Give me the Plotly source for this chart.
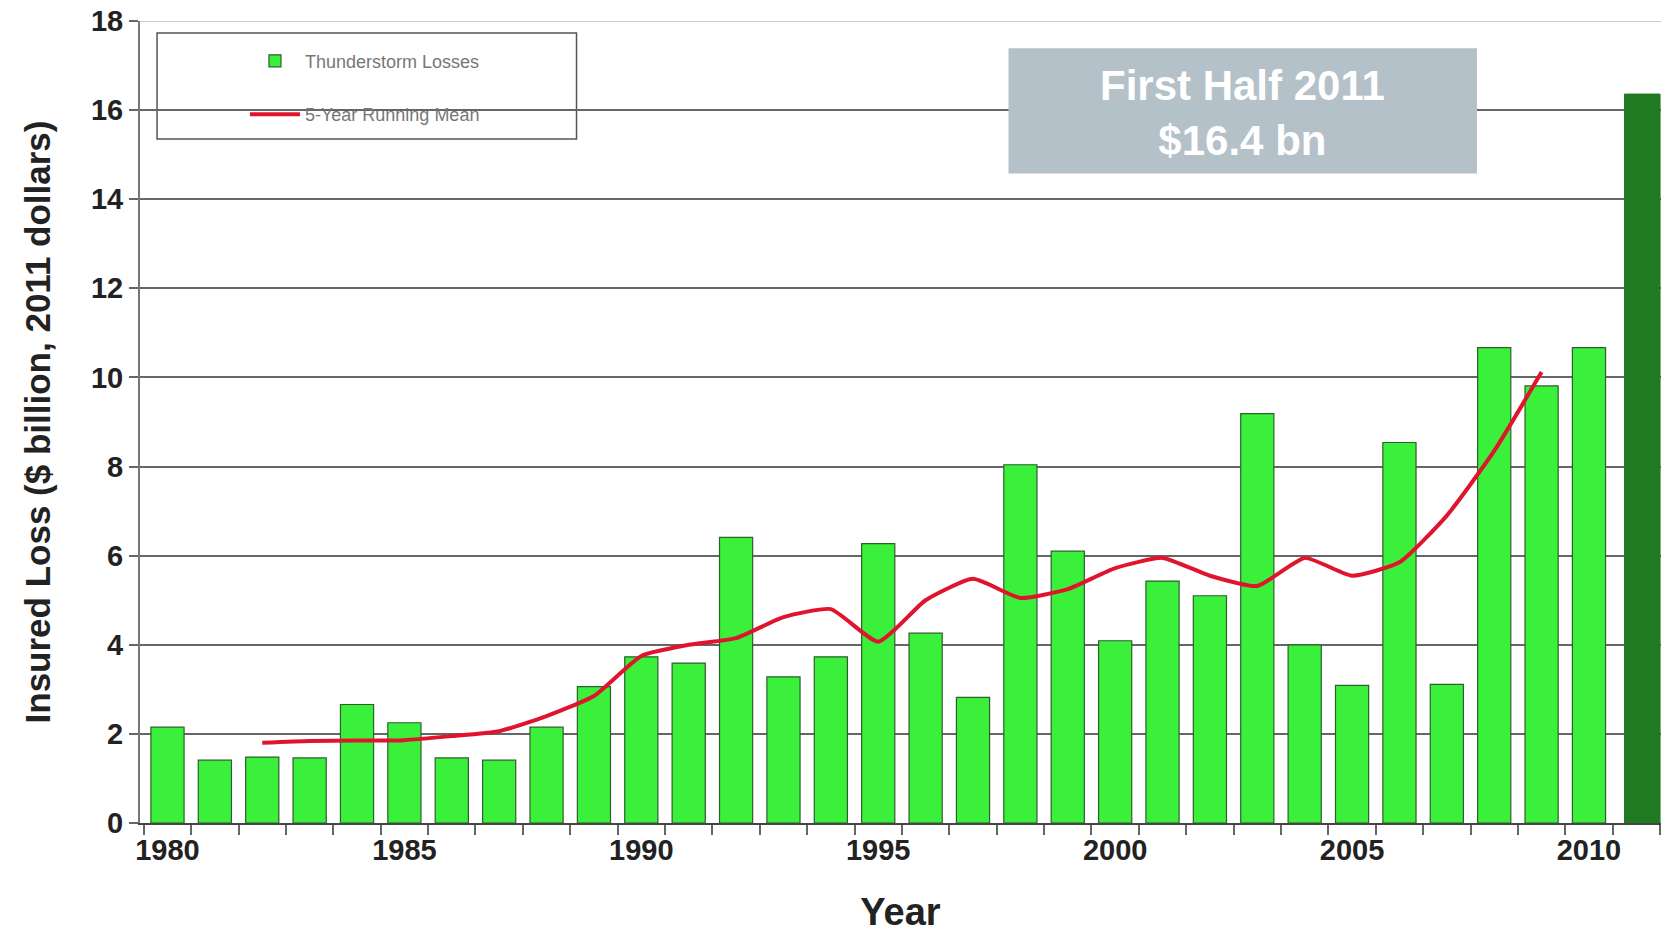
import plotly.graph_objects as go

years = list(range(1980, 2011))
losses = [2.15, 1.41, 1.48, 1.46, 2.66, 2.25, 1.46, 1.41, 2.15, 3.06,
          3.73, 3.59, 6.41, 3.28, 3.73, 6.27, 4.26, 2.82, 8.04, 6.10,
          4.09, 5.43, 5.10, 9.19, 4.00, 3.09, 8.54, 3.11, 10.67, 9.81,
          10.67]
half_year = [2011]
half_loss = [16.36]
mean_years = list(range(1982, 2010))
mean_vals = [1.80, 1.84, 1.85, 1.86, 1.95, 2.06, 2.40, 2.85, 3.75, 4.00,
             4.15, 4.62, 4.80, 4.07, 5.00, 5.48, 5.05, 5.25, 5.72, 5.95,
             5.55, 5.32, 5.95, 5.55, 5.85, 6.90, 8.35, 10.12]
x_ticks = [1980, 1985, 1990, 1995, 2000, 2005, 2010]
y_ticks = [0, 2, 4, 6, 8, 10, 12, 14, 16, 18]

FONT = "Liberation Sans, Arial, sans-serif"

fig = go.Figure()
fig.add_trace(go.Bar(
    x=years, y=losses, name="Thunderstorm Losses", width=0.7,
    marker=dict(color="#3af03a", line=dict(color="#2d5f2d", width=1.2)),
    legendgroup="a"))
fig.add_trace(go.Bar(
    x=half_year, y=half_loss, name="First Half 2011", width=0.75, offset=-0.25,
    marker=dict(color="#1f7a22", line=dict(color="#1f7a22", width=1)),
    showlegend=False))
fig.add_trace(go.Scatter(
    x=mean_years, y=mean_vals, name="5-Year Running Mean", mode="lines",
    line=dict(color="#e0142c", width=4, shape="spline", smoothing=0.5),
    legendgroup="b"))

fig.update_layout(
    width=1672, height=937,
    margin=dict(l=140, r=11, t=21, b=114, autoexpand=False),
    paper_bgcolor="white", plot_bgcolor="white",
    bargap=0.3, barmode="overlay",
    font=dict(family=FONT, color="#222"),
    showlegend=True,
    legend=dict(x=0.069, y=0.973, xanchor="left", yanchor="top",
                bgcolor="rgba(0,0,0,0)", borderwidth=0,
                font=dict(family=FONT, size=18, color="#777"),
                tracegroupgap=27, traceorder="grouped", itemwidth=50),
    xaxis=dict(range=[1979.42, 2011.52], tickvals=x_ticks,
               ticktext=[str(v) for v in x_ticks], ticks="",
               automargin=False, ticklabeloverflow="allow",
               tickfont=dict(family=FONT, size=29, color="#222", weight="bold"),
               showgrid=False, zeroline=False,
               showline=True, linecolor="#444", linewidth=2,
               minor=dict(ticks="outside", tick0=1979.5, dtick=1,
                          ticklen=10, tickcolor="#666", tickwidth=1.5,
                          showgrid=False),
               title=dict(text="<b>Year</b>", standoff=34,
                          font=dict(family=FONT, size=38, color="#222"))),
    yaxis=dict(range=[0, 18], tickvals=y_ticks, ticks="outside", ticklen=9,
               tickcolor="#666", tickwidth=1.5, automargin=False,
               ticklabeloverflow="allow",
               tickfont=dict(family=FONT, size=29, color="#222", weight="bold"),
               showgrid=True, gridcolor="#666", gridwidth=1.6,
               zeroline=False, showline=True, linecolor="#777", linewidth=2,
               title=dict(text="<b>Insured Loss ($ billion, 2011 dollars)</b>",
                          standoff=30,
                          font=dict(family=FONT, size=35, color="#222"))),
    shapes=[
        dict(type="line", xref="paper", yref="y", x0=0, x1=1, y0=18, y1=18,
             line=dict(color="#bbb", width=1.5), layer="below"),
        dict(type="rect", xref="paper", yref="paper",
             x0=0.0112, x1=0.287, y0=0.853, y1=0.985,
             fillcolor="white", line=dict(color="#555", width=1.5),
             layer="below"),
        dict(type="rect", xref="paper", yref="paper",
             x0=0.571, x1=0.879, y0=0.810, y1=0.966,
             fillcolor="#b5c1c9", line=dict(width=0), layer="above"),
    ],
    annotations=[
        dict(xref="paper", yref="paper", x=0.725, y=0.885,
             xanchor="center", yanchor="middle",
             text="<b>First Half 2011<br>$16.4 bn</b>", showarrow=False,
             font=dict(family=FONT, size=42, color="white"), align="center"),
    ],
)

# remove the default 8px page margin so the figure fills the window exactly
fig.write_html("out.html",
               config={"displayModeBar": False},
               post_script="document.body.style.margin='0';"
                           "document.body.style.overflow='hidden';")
